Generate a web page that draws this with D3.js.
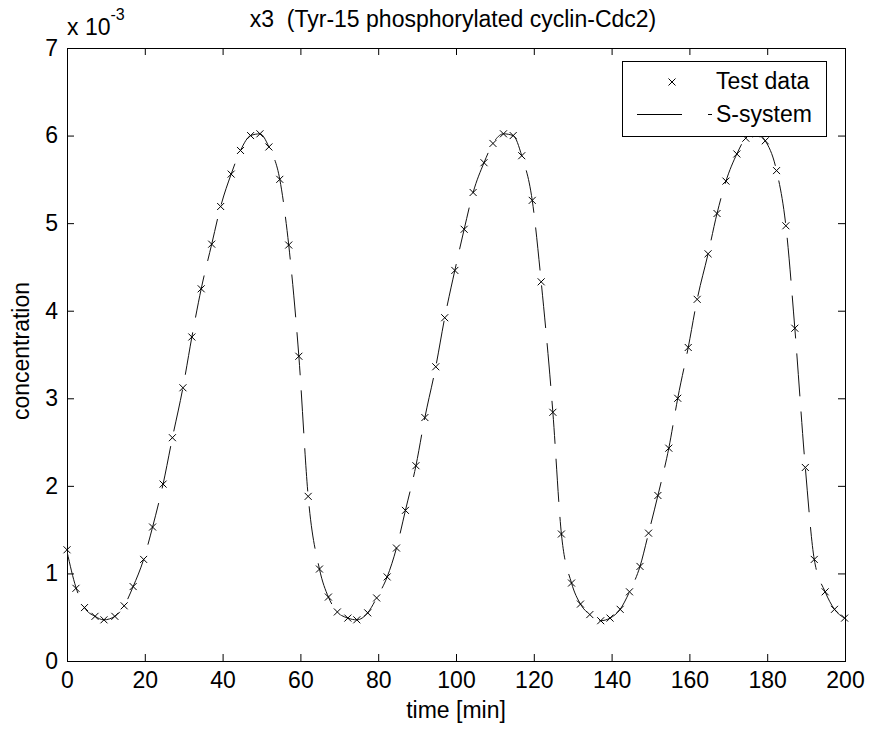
<!DOCTYPE html>
<html>
<head>
<meta charset="utf-8">
<script src="https://cdn.jsdelivr.net/npm/d3@7"></script>
<style>
  body { margin: 0; background: #fff; }
  text { font-family: "Liberation Sans", Arial, sans-serif; fill: #000; white-space: pre; }
</style>
</head>
<body>
<div id="container"></div>
<script>
/* DATA (concentration in units of 1e-3) */
const timeMin = [0, 2.3, 4.5, 7.2, 9.5, 12.3, 14.7, 17.0, 19.7, 22.0,
  24.7, 27.1, 29.8, 32.1, 34.5, 37.2, 39.5, 42.2, 44.6, 47.2,
  49.6, 51.9, 54.7, 57.0, 59.6, 62.0, 64.9, 67.2, 69.5, 72.2,
  74.5, 77.3, 79.6, 82.3, 84.7, 87.0, 89.7, 92.0, 94.8, 97.1,
  99.7, 102.1, 104.4, 107.2, 109.5, 112.2, 114.7, 116.9, 119.6, 121.9,
  124.9, 127.1, 129.7, 132.0, 134.4, 137.2, 139.6, 142.2, 144.6, 147.3,
  149.5, 151.9, 154.7, 157.0, 159.7, 162.0, 164.8, 167.1, 169.4, 172.2,
  174.5, 177.2, 179.5, 182.4, 184.8, 187.1, 189.8, 192.1, 194.9, 197.3, 199.9];

const testData = [1.27, 0.83, 0.61, 0.51, 0.47, 0.51, 0.63, 0.85, 1.16, 1.53,
  2.02, 2.55, 3.12, 3.70, 4.25, 4.76, 5.19, 5.56, 5.83, 6.00,
  6.02, 5.87, 5.50, 4.75, 3.48, 1.88, 1.05, 0.73, 0.56, 0.49,
  0.47, 0.55, 0.72, 0.96, 1.29, 1.72, 2.23, 2.78, 3.36, 3.92,
  4.46, 4.93, 5.35, 5.69, 5.91, 6.02, 6.00, 5.77, 5.26, 4.33,
  2.84, 1.45, 0.89, 0.65, 0.53, 0.46, 0.49, 0.59, 0.79, 1.08,
  1.46, 1.89, 2.43, 3.00, 3.58, 4.13, 4.65, 5.11, 5.48, 5.79,
  5.97, 6.02, 5.94, 5.60, 4.97, 3.80, 2.21, 1.16, 0.79, 0.59, 0.49];

const sSystem = [1.25, 0.84, 0.61, 0.51, 0.47, 0.51, 0.63, 0.85, 1.16, 1.53,
  2.02, 2.55, 3.12, 3.70, 4.25, 4.76, 5.19, 5.56, 5.83, 6.00,
  6.02, 5.87, 5.50, 4.75, 3.48, 1.88, 1.05, 0.73, 0.56, 0.49,
  0.47, 0.55, 0.72, 0.96, 1.29, 1.72, 2.23, 2.78, 3.36, 3.92,
  4.46, 4.93, 5.35, 5.69, 5.91, 6.02, 6.00, 5.77, 5.26, 4.33,
  2.84, 1.45, 0.89, 0.65, 0.53, 0.46, 0.49, 0.59, 0.79, 1.08,
  1.46, 1.89, 2.43, 3.00, 3.58, 4.13, 4.65, 5.11, 5.48, 5.79,
  5.97, 6.02, 5.94, 5.60, 4.97, 3.80, 2.21, 1.16, 0.79, 0.59, 0.49];

const xTicks = [0, 20, 40, 60, 80, 100, 120, 140, 160, 180, 200];
const yTicks = [0, 1, 2, 3, 4, 5, 6, 7];

/* LAYOUT */
const width = 869, height = 729;
const mLeft = 67, mRight = 845, mTop = 48, mBottom = 661;

const svg = d3.select("#container").append("svg")
  .attr("width", width)
  .attr("height", height);

const x = d3.scaleLinear().domain([0, 200]).range([mLeft, mRight]);
const y = d3.scaleLinear().domain([0, 7]).range([mBottom, mTop]);

/* AXES - ticks point inward, mirrored on top and right */
const fs = "23px";
svg.append("g")
  .attr("transform", `translate(0,${mBottom})`)
  .call(d3.axisBottom(x).tickValues(xTicks).tickSizeInner(-7).tickSizeOuter(0).tickPadding(11).tickFormat(d3.format("d")))
  .call(g => g.select(".domain").remove())
  .call(g => g.selectAll("text").style("font-size", fs));

svg.append("g")
  .attr("transform", `translate(0,${mTop})`)
  .call(d3.axisTop(x).tickValues(xTicks).tickSizeInner(-7).tickSizeOuter(0).tickFormat(""))
  .call(g => g.select(".domain").remove());

svg.append("g")
  .attr("transform", `translate(${mLeft},0)`)
  .call(d3.axisLeft(y).tickValues(yTicks).tickSizeInner(-7).tickSizeOuter(0).tickPadding(9).tickFormat(d3.format("d")))
  .call(g => g.select(".domain").remove())
  .call(g => g.selectAll("text").style("font-size", fs));

svg.append("g")
  .attr("transform", `translate(${mRight},0)`)
  .call(d3.axisRight(y).tickValues(yTicks).tickSizeInner(-7).tickSizeOuter(0).tickFormat(""))
  .call(g => g.select(".domain").remove());

svg.selectAll(".tick line").attr("stroke", "#000");

svg.append("rect")
  .attr("x", mLeft + 0.5).attr("y", mTop + 0.5)
  .attr("width", mRight - mLeft).attr("height", mBottom - mTop)
  .attr("fill", "none").attr("stroke", "#000");

/* CURVE */
svg.append("clipPath").attr("id", "plotclip")
  .append("rect").attr("x", mLeft).attr("y", mTop)
  .attr("width", mRight - mLeft).attr("height", mBottom - mTop);

const line = d3.line()
  .x((d, i) => x(timeMin[i]))
  .y(d => y(d))
  .curve(d3.curveMonotoneX);

svg.append("path")
  .datum(sSystem)
  .attr("clip-path", "url(#plotclip)")
  .attr("d", line)
  .attr("fill", "none")
  .attr("stroke", "#111")
  .attr("stroke-width", 1)
  .attr("stroke-dasharray", "43,15");

/* MARKERS */
const cross = "M-3.5,-3.5L3.5,3.5M-3.5,3.5L3.5,-3.5";
svg.selectAll(".mark")
  .data(testData)
  .join("path")
  .attr("class", "mark")
  .attr("transform", (d, i) => `translate(${x(timeMin[i])},${y(d)})`)
  .attr("d", cross)
  .attr("fill", "none")
  .attr("stroke", "#000")
  .attr("stroke-width", 1);

/* TEXTS */
svg.append("text")
  .attr("x", 453).attr("y", 27)
  .attr("text-anchor", "middle")
  .style("font-size", fs)
  .text("x3  (Tyr-15 phosphorylated cyclin-Cdc2)");

svg.append("text")
  .attr("x", 456).attr("y", 718)
  .attr("text-anchor", "middle")
  .style("font-size", fs)
  .text("time [min]");

svg.append("text")
  .attr("transform", "translate(29,351) rotate(-90)")
  .attr("text-anchor", "middle")
  .style("font-size", fs)
  .text("concentration");

const expo = svg.append("text").attr("x", 67).attr("y", 35).style("font-size", fs);
expo.append("tspan").text("x 10");
expo.append("tspan").attr("dy", -15).style("font-size", "16px").text("-3");

/* LEGEND */
const lg = svg.append("g");
lg.append("rect")
  .attr("x", 622.5).attr("y", 61.5)
  .attr("width", 204).attr("height", 75)
  .attr("fill", "#fff").attr("stroke", "#000");
lg.append("path")
  .attr("transform", "translate(672,82)")
  .attr("d", cross)
  .attr("fill", "none").attr("stroke", "#000");
lg.append("text").attr("x", 716).attr("y", 89).style("font-size", fs).text("Test data");
lg.append("line")
  .attr("x1", 637).attr("x2", 712).attr("y1", 114.5).attr("y2", 114.5)
  .attr("stroke", "#000").attr("stroke-dasharray", "45,26");
lg.append("text").attr("x", 716).attr("y", 122).style("font-size", fs).text("S-system");
</script>
</body>
</html>
